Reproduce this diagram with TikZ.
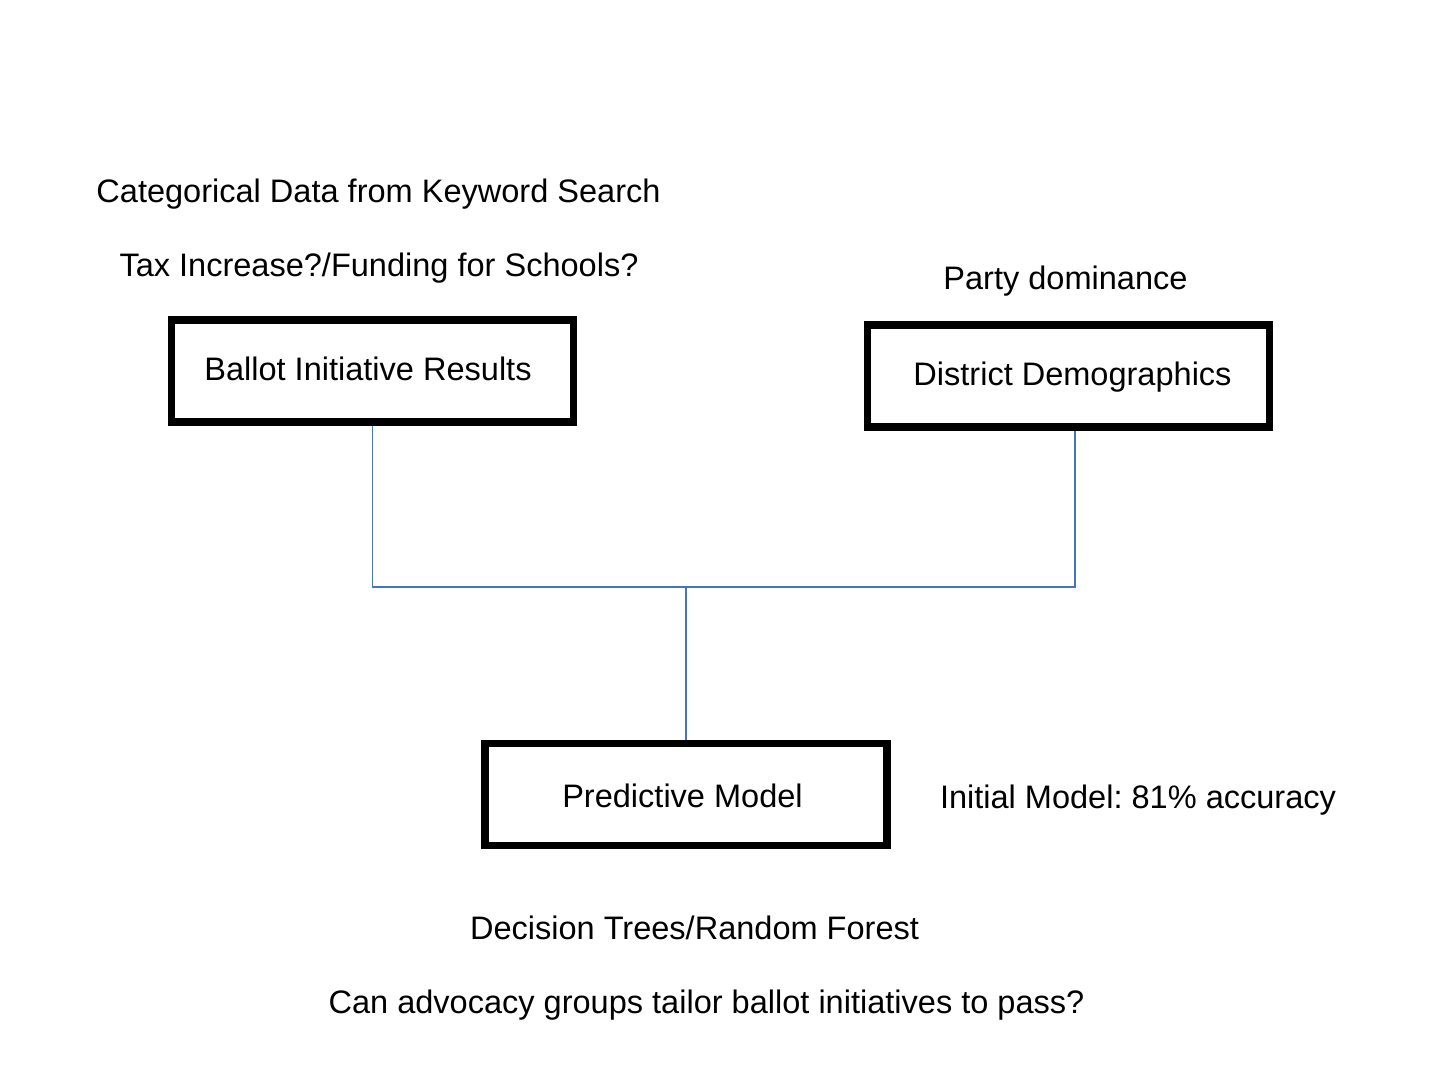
\documentclass[tikz,border=0pt]{standalone}
\usepackage{fontspec}
\setmainfont{Liberation Sans}
\usepackage{tikz}
\frenchspacing

\definecolor{linkblue}{RGB}{68,114,196}

\tikzset{
    stage/.style={draw, line width=0.075cm, minimum width=4.02cm, minimum height=1.02cm, inner sep=0pt},
    note/.style={inner sep=0pt, text height=0.72em, text depth=0.21em},
    link/.style={draw=linkblue, line width=0.35pt}
}

\begin{document}
\begin{tikzpicture}[x=0.01cm, y=-0.01cm, font=\fontsize{9.25}{11}\selectfont]
    \useasboundingbox (0, 0) rectangle (1439, 1079);
    % boxes
    \node [stage] (ballot) at (372.5, 371) {};
    \node [note] (ballottext) at (368, 372) {Ballot Initiative Results};
    \node [stage] (district) at (1068.5, 376) {};
    \node [note] (districttext) at (1072.5, 377) {District Demographics};
    \node [stage] (model) at (686, 794.5) {};
    \node [note] (modeltext) at (682.5, 799) {Predictive Model};
    % labels
    \node [note] (keyword) at (378.5, 194) {Categorical Data from Keyword Search};
    \node [note] (tax) at (379, 268) {Tax Increase?/Funding for Schools?};
    \node [note] (party) at (1065.5, 281) {Party dominance};
    \node [note] (accuracy) at (1138, 800) {Initial Model: 81\% accuracy};
    \node [note] (forest) at (694.5, 931) {Decision Trees/Random Forest};
    \node [note] (question) at (706.5, 1005) {Can advocacy groups tailor ballot initiatives to pass?};
    % connectors
    \coordinate (join) at (686, 587);
    \draw [link] (ballot.south) |- (join) -| ([xshift=0.065cm]district.south);
    \draw [link] (join) to (model.north);
\end{tikzpicture}
\end{document}
